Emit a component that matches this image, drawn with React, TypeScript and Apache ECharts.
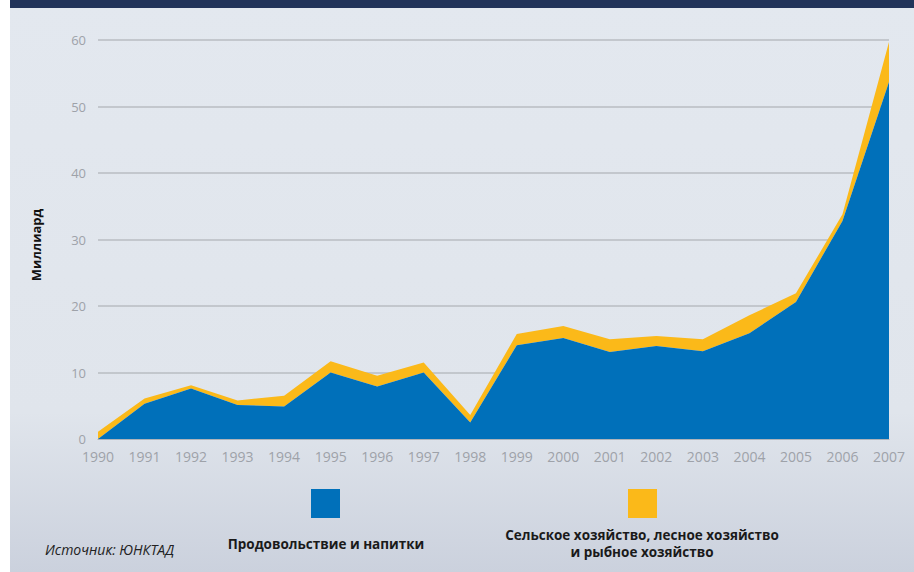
import React, { useEffect, useRef } from "react";
import * as echarts from "echarts";

const years = ["1990","1991","1992","1993","1994","1995","1996","1997","1998","1999","2000","2001","2002","2003","2004","2005","2006","2007"];
const foodDrinks = [0, 5.3, 7.6, 5.1, 4.9, 10.0, 7.9, 10.0, 2.5, 14.1, 15.2, 13.1, 14.0, 13.2, 15.9, 20.6, 32.8, 53.7];
const agriForestFish = [1.1, 0.8, 0.5, 0.7, 1.6, 1.7, 1.6, 1.5, 1.1, 1.7, 1.8, 1.9, 1.5, 1.8, 2.7, 1.3, 1.0, 6.0];
const seriesNames = ["Продовольствие и напитки", "Сельское хозяйство, лесное хозяйство и рыбное хозяйство"];
const legendLines2 = ["Сельское хозяйство, лесное хозяйство", "и рыбное хозяйство"];
const yAxisName = "Миллиард";
const sourceText = "Источник: ЮНКТАД";

const BLUE = "#0070ba";
const YELLOW = "#fbb919";
const FONT = "'Open Sans', 'Noto Sans', sans-serif";

export default function App() {
  const ref = useRef<HTMLDivElement>(null);
  useEffect(() => {
    if (!ref.current) return;
    const chart = echarts.init(ref.current, null, { renderer: "svg" });
    chart.setOption({
      animation: false,
      textStyle: { fontFamily: FONT },
      graphic: [
        {
          type: "rect", left: 10, top: 0, z: -10,
          shape: { width: 904, height: 572 },
          style: {
            fill: new echarts.graphic.LinearGradient(0, 0, 0, 1, [
              { offset: 0, color: "#e3e8ef" },
              { offset: 0.72, color: "#e0e5ec" },
              { offset: 1, color: "#cbd1dd" },
            ]),
          },
        },
        { type: "rect", left: 10, top: 0, z: -9, shape: { width: 904, height: 8 }, style: { fill: "#22345a" } },
        { type: "rect", left: 311, top: 489, shape: { width: 29, height: 29 }, style: { fill: BLUE } },
        { type: "rect", left: 628, top: 489, shape: { width: 29, height: 29 }, style: { fill: YELLOW } },
        {
          type: "text", x: 326, y: 544,
          style: { text: seriesNames[0], fill: "#1a1a1a", font: `bold 13.5px ${FONT}`, align: "center", verticalAlign: "middle" },
        },
        {
          type: "text", x: 642, y: 535,
          style: { text: legendLines2[0], fill: "#1a1a1a", font: `bold 13.5px ${FONT}`, align: "center", verticalAlign: "middle" },
        },
        {
          type: "text", x: 642, y: 552,
          style: { text: legendLines2[1], fill: "#1a1a1a", font: `bold 13.5px ${FONT}`, align: "center", verticalAlign: "middle" },
        },
        {
          type: "text", x: 45, y: 549,
          style: { text: sourceText, fill: "#222", font: `italic 14px ${FONT}`, align: "left", verticalAlign: "middle" },
        },
        {
          type: "text", x: 36, y: 245, rotation: Math.PI / 2,
          style: { text: yAxisName, fill: "#111", font: `bold 13px ${FONT}`, align: "center", verticalAlign: "middle" },
        },
      ],
      grid: { left: 98, right: 25, top: 40, bottom: 133 },
      xAxis: {
        type: "category",
        data: years,
        boundaryGap: false,
        axisLine: { lineStyle: { color: "#aeb3ba", width: 1 } },
        axisTick: { show: false },
        axisLabel: { color: "#9ea2a9", fontSize: 14, margin: 10, fontFamily: FONT },
      },
      yAxis: {
        type: "value",
        min: 0,
        max: 60,
        interval: 10,
        axisLine: { show: false },
        axisTick: { show: false },
        axisLabel: { color: "#9ea2a9", fontSize: 13, margin: 12, fontFamily: FONT },
        splitLine: { lineStyle: { color: "#b9bcc2", width: 1.5 } },
      },
      series: [
        {
          name: seriesNames[0], type: "line", stack: "total", data: foodDrinks,
          symbol: "none", lineStyle: { width: 0 }, areaStyle: { color: BLUE, opacity: 1 }, z: 3,
        },
        {
          name: seriesNames[1], type: "line", stack: "total", data: agriForestFish,
          symbol: "none", lineStyle: { width: 0 }, areaStyle: { color: YELLOW, opacity: 1 }, z: 2,
        },
      ],
    });
    return () => chart.dispose();
  }, []);
  return <div ref={ref} style={{ position: "fixed", left: 0, top: 0, width: 914, height: 572, background: "#fff" }} />;
}
